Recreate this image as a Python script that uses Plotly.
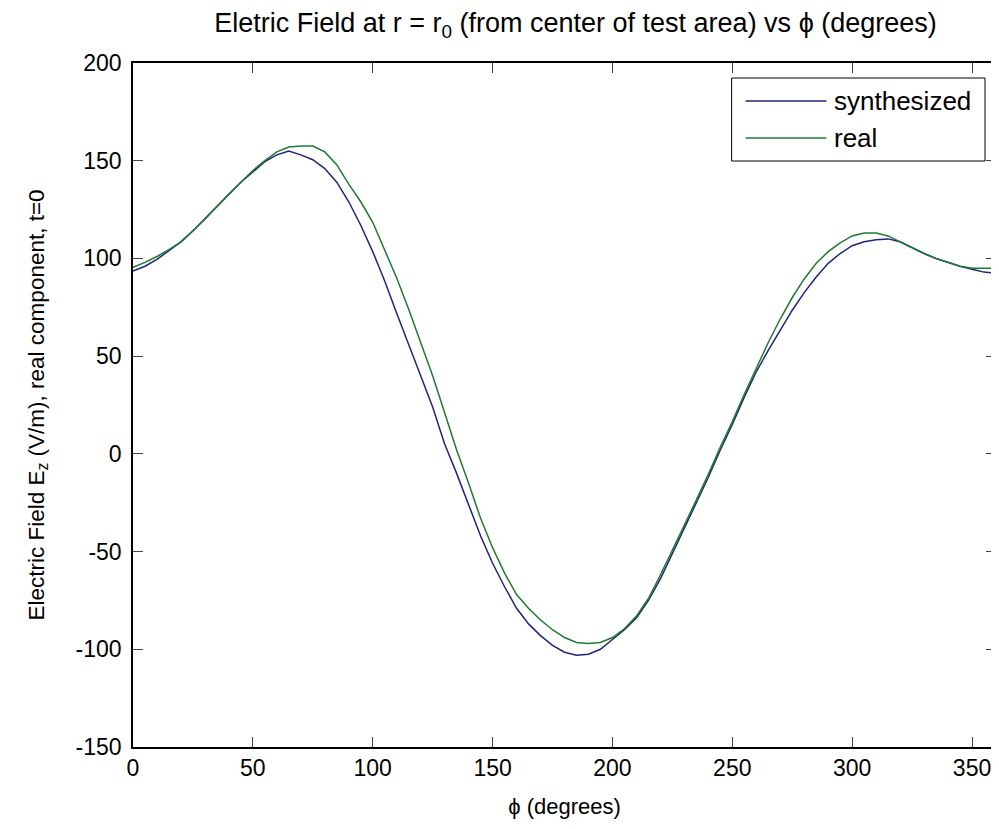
import plotly.graph_objects as go

# phi (degrees) sample positions
phi = list(range(0, 361, 5))

synthesized = [
    93.5, 96, 99.5, 104, 108.5, 114, 120.5, 127, 133, 139,
    144.5, 149.5, 153, 155, 153, 150.5, 146, 139, 129, 117,
    103.5, 88.5, 72, 56, 41, 24, 5, -10, -26, -42,
    -56, -68, -79, -87, -93, -98, -101.5, -103, -102.5, -100,
    -95, -90, -84, -75, -64, -51, -38, -25, -12, 2,
    15, 29, 42, 53, 63.5, 73.5, 82.5, 90.5, 97.5, 102.5,
    106.5, 108.5, 109.5, 110, 108.5, 105.5, 102.5, 100, 98, 96,
    94.5, 93, 92.5,
]

real = [
    95.5, 98, 101, 104.5, 108.5, 114, 120, 126.5, 133, 139,
    145, 150, 154.5, 157, 157.5, 157.5, 154.5, 148, 138, 129,
    118.5, 104.5, 90, 74, 57, 40, 21, 2, -15, -33,
    -48, -61, -72, -79, -85, -90, -94, -96.5, -97, -96.5,
    -94, -89.5, -83, -74, -62, -49.5, -36.5, -23.5, -10.5, 3.5,
    16.5, 30.5, 44, 57, 69, 80, 89.5, 97.5, 103.5, 108,
    111.5, 113, 113, 111.5, 108.5, 105.5, 102.5, 100, 98, 96,
    95, 95, 95,
]

x_ticks = [0, 50, 100, 150, 200, 250, 300, 350]
y_ticks = [-150, -100, -50, 0, 50, 100, 150, 200]
y_tick_text = ['-150', '-100', '-50', '0', '50', '100', '150', '200']

COL_SYN = '#23237a'
COL_REAL = '#1f7a32'
FONT = 'Liberation Sans, Arial, sans-serif'

fig = go.Figure()
fig.add_trace(go.Scatter(x=phi, y=synthesized, mode='lines', name='synthesized',
                         line=dict(color=COL_SYN, width=1.5)))
fig.add_trace(go.Scatter(x=phi, y=real, mode='lines', name='real',
                         line=dict(color=COL_REAL, width=1.5)))

# page has an 8px body margin, so the figure is 8px smaller and shifted
W, H = 991, 821
OFF = 8
# plot box as seen in the screenshot: left 133, right 998, top 63, bottom 747
L, R, T, B = 133, 998, 63, 747


def px(xp):
    return (xp - L) / (R - L)


def py(yp):
    return (B - yp) / (B - T)


# legend box drawn by hand (MATLAB style, long line samples)
fig.add_shape(type='rect', xref='paper', yref='paper',
              x0=px(733), x1=px(987), y0=py(161), y1=py(78),
              line=dict(color='black', width=1), fillcolor='white', layer='above')
for name, col, yy in [('synthesized', COL_SYN, 101), ('real', COL_REAL, 138)]:
    fig.add_shape(type='line', xref='paper', yref='paper',
                  x0=px(747), x1=px(828), y0=py(yy), y1=py(yy),
                  line=dict(color=col, width=1.5), layer='above')
    fig.add_annotation(xref='paper', yref='paper', x=px(834), y=py(yy),
                       xanchor='left', yanchor='middle', showarrow=False,
                       text=name, font=dict(family=FONT, size=26, color='black'))

fig.update_layout(
    width=W, height=H,
    margin=dict(l=L - OFF, r=W - (R - OFF), t=T - OFF, b=H - (B - OFF)),
    paper_bgcolor='white', plot_bgcolor='white',
    showlegend=False,
    title=dict(text='Eletric Field at r = r<sub>0</sub> (from center of test area) vs \u03d5 (degrees)',
               x=((L + R) / 2 + 10 - OFF) / W, xanchor='center',
               y=1 - (23 - OFF) / H, yanchor='middle',
               font=dict(family=FONT, size=27, color='black')),
    font=dict(family=FONT, color='black'),
)

fig.update_xaxes(range=[0, 360], tickvals=x_ticks, ticks='inside', ticklen=10,
                 showline=True, linecolor='black', linewidth=1.5, mirror='allticks',
                 showgrid=False, zeroline=False, tickfont=dict(size=23),
                 title=dict(text='\u03d5 (degrees)', font=dict(size=22), standoff=18))
fig.update_yaxes(range=[-150, 200], tickvals=y_ticks, ticktext=y_tick_text,
                 ticks='inside', ticklen=10, ticklabelstandoff=5,
                 showline=True, linecolor='black', linewidth=1.5, mirror='allticks',
                 showgrid=False, zeroline=False, tickfont=dict(size=23),
                 title=dict(text='Electric Field E<sub>z</sub> (V/m), real component, t=0',
                            font=dict(size=22.5), standoff=25))

fig.write_html('out.html')
